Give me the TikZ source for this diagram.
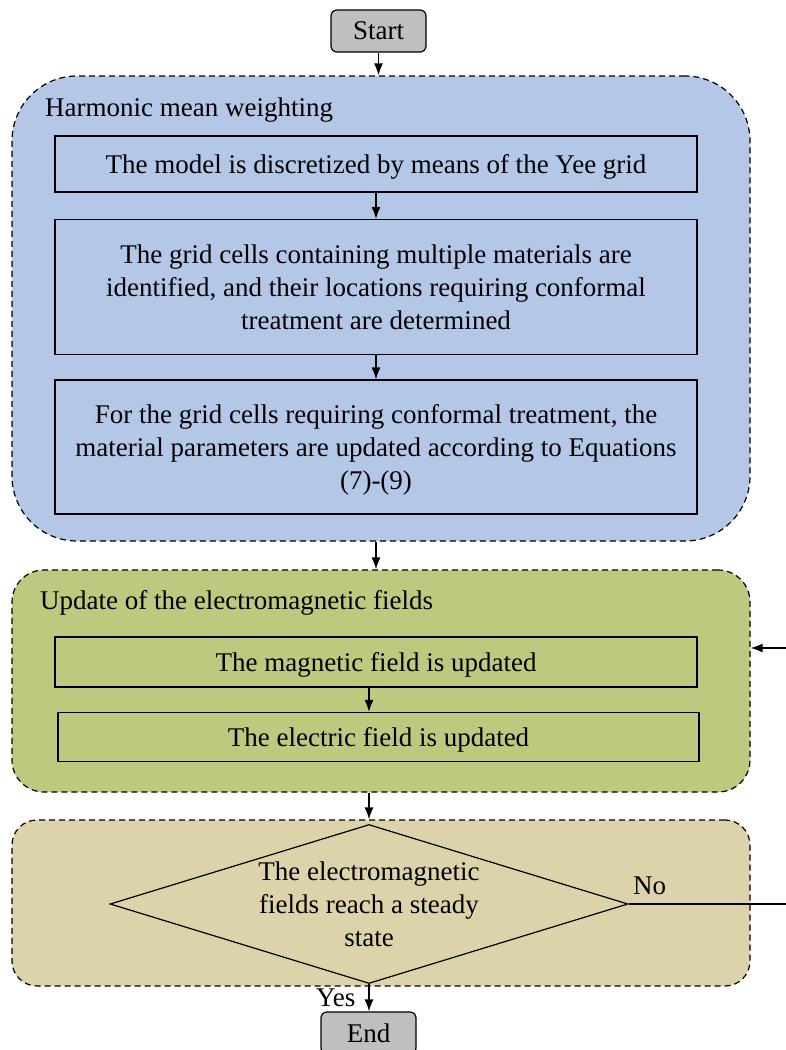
\documentclass[tikz,border=0pt]{standalone}
\usepackage{fontspec}
\setmainfont{Liberation Serif}
\usepackage{xcolor}
\usepackage{tikz}
\usetikzlibrary{shapes.geometric,arrows.meta,positioning}

\definecolor{harmonicblue}{RGB}{180,199,231}
\definecolor{updategreen}{RGB}{188,201,127}
\definecolor{checktan}{RGB}{221,211,170}
\definecolor{termgray}{RGB}{191,191,191}

\begin{document}
\begin{tikzpicture}[
    x=1pt, y=-1pt,
    font=\fontsize{27}{33}\selectfont,
    group/.style={rectangle, draw, line width=1.2pt, dash pattern=on 6pt off 4pt, inner sep=0pt, minimum width=738pt},
    grouptitle/.style={anchor=base west, inner sep=0pt},
    stepbox/.style={rectangle, draw, line width=1.2pt, align=center, inner sep=0pt, text depth=0pt, minimum width=642pt},
    terminal/.style={rectangle, draw, rounded corners=6pt, fill=termgray, line width=1.2pt, minimum width=95pt, minimum height=42pt, inner sep=0pt, text depth=0pt},
    decision/.style={diamond, draw, line width=1.2pt, align=center, inner sep=0pt, aspect=3.26, minimum width=518pt, minimum height=159pt},
    flow/.style={-{Latex[length=12pt,width=9pt]}, line width=1.3pt}
]
    \useasboundingbox (0,0) rectangle (785,1050);

    % Start
    \node[terminal] (start) at (378.5,31) {Start};

    % Harmonic mean weighting
    \node[group, fill=harmonicblue, rounded corners=65pt, minimum height=465pt] (harmonic) at (381,308.5) {};
    \node[grouptitle] (harmonictitle) at (45,116) {Harmonic mean weighting};
    \node[stepbox, minimum height=56pt] (yee) at (376,164) {The model is discretized by means of the Yee grid};
    \node[stepbox, minimum height=135pt] (cells) at (376,287) {The grid cells containing multiple materials are\\
        identified, and their locations requiring conformal\\
        treatment are determined};
    \node[stepbox, minimum height=134pt] (params) at (376,447) {For the grid cells requiring conformal treatment, the\\
        material parameters are updated according to Equations\\
        (7)-(9)};

    % Update of the fields
    \node[group, fill=updategreen, rounded corners=32pt, minimum height=222pt] (update) at (381,681) {};
    \node[grouptitle] (updatetitle) at (40,609) {Update of the electromagnetic fields};
    \node[stepbox, minimum height=50pt] (magnetic) at (376,662) {The magnetic field is updated};
    \node[stepbox, minimum width=641pt, minimum height=49pt] (electric) at (378.5,737) {The electric field is updated};

    % Steady state check
    \node[group, fill=checktan, rounded corners=25pt, minimum height=166pt] (check) at (381,903) {};
    \node[decision] (steady) at (369,904) {The electromagnetic\\ fields reach a steady\\ state};
    \node[grouptitle] (no) at (633,894) {No};
    \node[grouptitle] (yes) at (316,1006) {Yes};

    % End
    \node[terminal] (end) at (368.5,1033) {End};

    % Arrows
    \draw[flow] (start.south) -- (start.south |- harmonic.north);
    \draw[flow] (yee.south) -- (yee.south |- cells.north);
    \draw[flow] (cells.south) -- (cells.south |- params.north);
    \draw[flow] (params.south |- harmonic.south) -- (params.south |- update.north);
    \draw[flow] (steady.north |- magnetic.south) -- (steady.north |- electric.north);
    \draw[flow] (steady.north |- update.south) -- (steady.north |- check.north);
    \draw[flow] (steady.south) -- (steady.south |- end.north);

    % Loop back
    \coordinate (loop) at (800,648);
    \draw[flow] (steady.east) -| (loop) -- (update.east |- loop);
\end{tikzpicture}
\end{document}
